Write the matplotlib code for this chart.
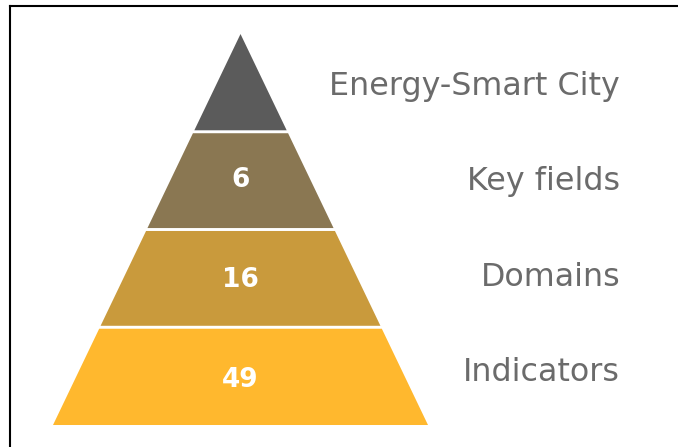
import matplotlib
matplotlib.use("Agg")
import matplotlib.pyplot as plt
from matplotlib.patches import Polygon
from matplotlib.lines import Line2D

levels = ["Indicators", "Domains", "Key fields", "Energy-Smart City"]
counts = [49, 16, 6, None]
colors = ["#ffb82e", "#c99a3c", "#8a7752", "#5b5b5b"]

fig = plt.figure(figsize=(6.78, 4.47), dpi=100)
ax = fig.add_axes([0, 0, 1, 1])
ax.set_xlim(-1.2827, 2.3333)
ax.set_ylim(-0.225, 4.348)
ax.axis("off")

n = len(levels)
gap = 0.03
for i, (lab, cnt, col) in enumerate(zip(levels, counts, colors)):
    y0 = i + (gap / 2 if i > 0 else 0)
    y1 = i + 1 - (gap / 2 if i < n - 1 else 0)
    w0 = (n - y0) / n
    w1 = (n - y1) / n
    if i == n - 1:
        pts = [(-w0, y0), (w0, y0), (0, y1)]
    else:
        pts = [(-w0, y0), (w0, y0), (w1, y1), (-w1, y1)]
    ax.add_patch(Polygon(pts, closed=True, facecolor=col, edgecolor="none"))
    if cnt is not None:
        ax.text(0, 0.393 + 1.0225 * i, str(cnt), ha="center", va="baseline",
                color="white", fontsize=19, fontweight="bold")
    ax.text(2.024, 0.45 + 0.975 * i, lab, ha="right", va="baseline",
            color="#6b6b6b", fontsize=22.9)

# frame lines (left and top)
fig.add_artist(Line2D([9.5 / 678, 9.5 / 678], [0, 1 - 5.5 / 447],
                      transform=fig.transFigure, color="black", lw=1.5))
fig.add_artist(Line2D([9.5 / 678, 1], [1 - 5.5 / 447, 1 - 5.5 / 447],
                      transform=fig.transFigure, color="black", lw=1.5))

fig.savefig("out.png", dpi=100)
